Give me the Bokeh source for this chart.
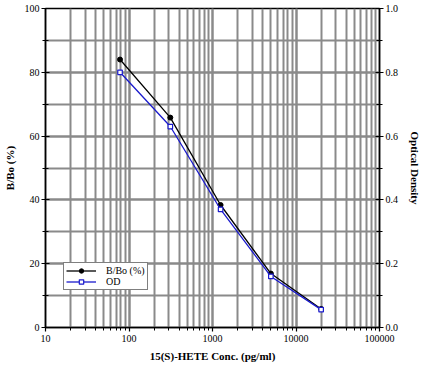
from bokeh.plotting import figure
from bokeh.models import (Range1d, LinearAxis, LogTicker, SingleIntervalTicker,
                          NumeralTickFormatter, Legend, LegendItem)
from bokeh.embed import file_html
from bokeh.resources import INLINE

conc = [78.1, 312.5, 1250, 5000, 20000]
bbo = [84.0, 65.8, 38.4, 16.9, 5.8]
od = [0.80, 0.63, 0.37, 0.16, 0.056]

FONT = "Liberation Serif"
GRID = "#8a8a8a"

p = figure(width=424, height=369, x_axis_type="log", output_backend="svg",
           toolbar_location=None, x_range=Range1d(10, 100000), y_range=Range1d(0, 100),
           min_border_left=45, min_border_right=44, min_border_top=8, min_border_bottom=42)
p.extra_y_ranges = {"od": Range1d(0, 1.0)}

p.outline_line_color = "black"
p.outline_line_width = 1.5
p.background_fill_color = "white"
p.border_fill_color = "white"

xa = p.xaxis[0]
xa.ticker = LogTicker(num_minor_ticks=10)
xa.formatter = NumeralTickFormatter(format="0")
xa.axis_label = "15(S)-HETE Conc. (pg/ml)"

ya = p.yaxis[0]
ya.ticker = SingleIntervalTicker(interval=20, num_minor_ticks=2)
ya.axis_label = "B/Bo (%)"

ra = LinearAxis(y_range_name="od", axis_label="Optical Density",
                ticker=SingleIntervalTicker(interval=0.2, num_minor_ticks=2),
                formatter=NumeralTickFormatter(format="0.0"))
p.add_layout(ra, "right")

for ax in [xa, ya, ra]:
    ax.axis_line_color = "black"
    ax.axis_line_width = 1.5
    ax.major_tick_line_color = "black"
    ax.minor_tick_line_color = "black"
    ax.major_tick_line_width = 1.2
    ax.minor_tick_line_width = 1.0
    ax.major_tick_out = 4
    ax.major_tick_in = 4
    ax.minor_tick_out = 3
    ax.minor_tick_in = 3
    ax.major_label_text_font = FONT
    ax.major_label_text_font_size = "10px"
    ax.major_label_text_color = "black"
    ax.major_label_standoff = 2
    ax.axis_label_text_font = FONT
    ax.axis_label_text_font_size = "11px"
    ax.axis_label_text_font_style = "bold"
    ax.axis_label_text_color = "black"
    ax.axis_label_standoff = 4

xa.major_tick_in = 0
xa.minor_tick_in = 0
xa.major_label_standoff = 3
xa.axis_label_standoff = 5
ra.axis_label_standoff = 8
ya.axis_label_standoff = 6

p.xgrid.grid_line_color = GRID
p.xgrid.grid_line_width = 2
p.xgrid.minor_grid_line_color = GRID
p.xgrid.minor_grid_line_width = 2
p.ygrid.grid_line_color = GRID
p.ygrid.grid_line_width = 2
p.ygrid.minor_grid_line_color = GRID
p.ygrid.minor_grid_line_width = 2

l1 = p.line(conc, bbo, line_color="black", line_width=1.3)
m1 = p.scatter(conc, bbo, marker="circle", size=5, fill_color="black", line_color="black")
l2 = p.line(conc, od, line_color="#1a1acc", line_width=1.3, y_range_name="od")
m2 = p.scatter(conc, od, marker="square", size=4.5, fill_color="white", line_color="#1a1acc",
               line_width=1.2, y_range_name="od")

legend = Legend(items=[LegendItem(label="B/Bo (%)", renderers=[l1, m1]),
                       LegendItem(label="OD", renderers=[l2, m2])],
                location=(18, 37))
legend.border_line_color = "black"
legend.border_line_width = 1.5
legend.background_fill_color = "white"
legend.background_fill_alpha = 1
legend.label_text_font = FONT
legend.label_text_font_size = "10px"
legend.label_text_color = "black"
legend.label_text_line_height = 1.0
legend.glyph_width = 30
legend.glyph_height = 11
legend.label_height = 11
legend.spacing = 0
legend.padding = 2
legend.margin = 0
legend.label_standoff = 10
p.add_layout(legend, "center")

open("out.html", "w").write(file_html(p, INLINE))
